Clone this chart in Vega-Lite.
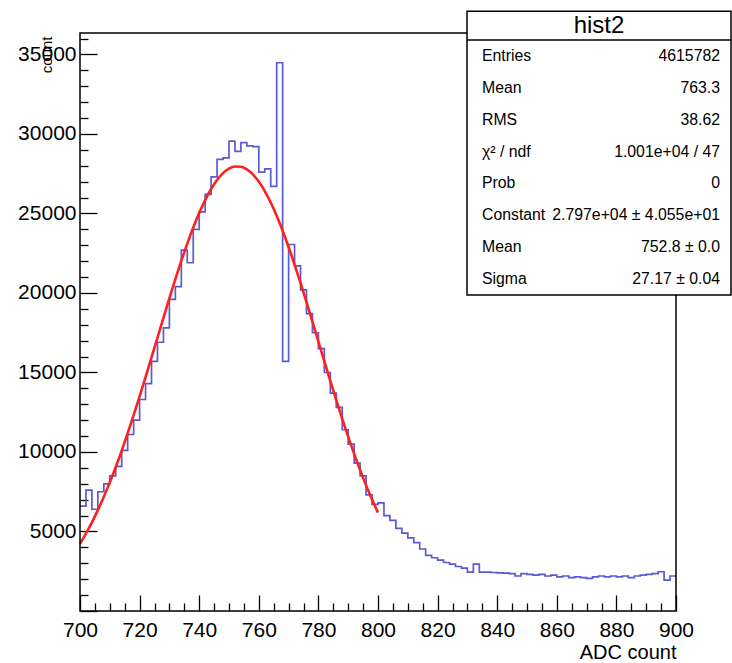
{
  "$schema": "https://vega.github.io/schema/vega-lite/v6.json",
  "autosize": {"type": "none"},
  "width": 596,
  "height": 578,
  "padding": {"left": 80, "top": 33, "right": 56, "bottom": 52},
  "background": "white",
  "config": {
    "view": {"stroke": null},
    "axis": {"labelFont": "Liberation Sans", "titleFont": "Liberation Sans", "labelColor": "black", "titleColor": "black", "tickColor": "black", "titleFontWeight": "normal", "domain": false, "grid": false, "tickWidth": 1.3}
  },
  "datasets": {
    "hist": [
      {"adc": 700, "count": 6600}, {"adc": 702, "count": 7600}, {"adc": 704, "count": 6400}, {"adc": 706, "count": 7500},
      {"adc": 708, "count": 8000}, {"adc": 710, "count": 8500}, {"adc": 712, "count": 9100}, {"adc": 714, "count": 10100},
      {"adc": 716, "count": 11100}, {"adc": 718, "count": 12000}, {"adc": 720, "count": 13300}, {"adc": 722, "count": 14300},
      {"adc": 724, "count": 15700}, {"adc": 726, "count": 16900}, {"adc": 728, "count": 17800}, {"adc": 730, "count": 19600},
      {"adc": 732, "count": 20400}, {"adc": 734, "count": 22700}, {"adc": 736, "count": 21900}, {"adc": 738, "count": 24000},
      {"adc": 740, "count": 25100}, {"adc": 742, "count": 26200}, {"adc": 744, "count": 27300}, {"adc": 746, "count": 28400},
      {"adc": 748, "count": 28500}, {"adc": 750, "count": 29550}, {"adc": 752, "count": 28900}, {"adc": 754, "count": 29450},
      {"adc": 756, "count": 29250}, {"adc": 758, "count": 29200}, {"adc": 760, "count": 27600}, {"adc": 762, "count": 27800},
      {"adc": 764, "count": 26700}, {"adc": 766, "count": 34480}, {"adc": 768, "count": 15700}, {"adc": 770, "count": 23050},
      {"adc": 772, "count": 21700}, {"adc": 774, "count": 20200}, {"adc": 776, "count": 18700}, {"adc": 778, "count": 17500},
      {"adc": 780, "count": 16500}, {"adc": 782, "count": 15000}, {"adc": 784, "count": 13700}, {"adc": 786, "count": 12800},
      {"adc": 788, "count": 11400}, {"adc": 790, "count": 10500}, {"adc": 792, "count": 9300}, {"adc": 794, "count": 8500},
      {"adc": 796, "count": 7300}, {"adc": 798, "count": 6700}, {"adc": 800, "count": 6800}, {"adc": 802, "count": 6000},
      {"adc": 804, "count": 5700}, {"adc": 806, "count": 5200}, {"adc": 808, "count": 4900}, {"adc": 810, "count": 4600},
      {"adc": 812, "count": 4300}, {"adc": 814, "count": 3900}, {"adc": 816, "count": 3500}, {"adc": 818, "count": 3350},
      {"adc": 820, "count": 3200}, {"adc": 822, "count": 3050}, {"adc": 824, "count": 2950}, {"adc": 826, "count": 2800},
      {"adc": 828, "count": 2700}, {"adc": 830, "count": 2450}, {"adc": 832, "count": 2950}, {"adc": 834, "count": 2450},
      {"adc": 836, "count": 2450}, {"adc": 838, "count": 2420}, {"adc": 840, "count": 2400}, {"adc": 842, "count": 2380},
      {"adc": 844, "count": 2350}, {"adc": 846, "count": 2200}, {"adc": 848, "count": 2350}, {"adc": 850, "count": 2300},
      {"adc": 852, "count": 2250}, {"adc": 854, "count": 2300}, {"adc": 856, "count": 2200}, {"adc": 858, "count": 2250},
      {"adc": 860, "count": 2150}, {"adc": 862, "count": 2200}, {"adc": 864, "count": 2100}, {"adc": 866, "count": 2150},
      {"adc": 868, "count": 2100}, {"adc": 870, "count": 2050}, {"adc": 872, "count": 2150}, {"adc": 874, "count": 2200},
      {"adc": 876, "count": 2150}, {"adc": 878, "count": 2200}, {"adc": 880, "count": 2150}, {"adc": 882, "count": 2200},
      {"adc": 884, "count": 2100}, {"adc": 886, "count": 2200}, {"adc": 888, "count": 2250}, {"adc": 890, "count": 2300},
      {"adc": 892, "count": 2350}, {"adc": 894, "count": 2470}, {"adc": 896, "count": 1940}, {"adc": 898, "count": 2200},
      {"adc": 900, "count": 2200}
    ],
    "fit": [
      {"adc": 700, "fit": 4232}, {"adc": 702, "fit": 4870}, {"adc": 704, "fit": 5574}, {"adc": 706, "fit": 6344},
      {"adc": 708, "fit": 7183}, {"adc": 710, "fit": 8089}, {"adc": 712, "fit": 9057}, {"adc": 714, "fit": 10089},
      {"adc": 716, "fit": 11177}, {"adc": 718, "fit": 12315}, {"adc": 720, "fit": 13498}, {"adc": 722, "fit": 14712},
      {"adc": 724, "fit": 15949}, {"adc": 726, "fit": 17196}, {"adc": 728, "fit": 18441}, {"adc": 730, "fit": 19669},
      {"adc": 732, "fit": 20866}, {"adc": 734, "fit": 22015}, {"adc": 736, "fit": 23103}, {"adc": 738, "fit": 24116},
      {"adc": 740, "fit": 25033}, {"adc": 742, "fit": 25844}, {"adc": 744, "fit": 26541}, {"adc": 746, "fit": 27109},
      {"adc": 748, "fit": 27536}, {"adc": 750, "fit": 27822}, {"adc": 752, "fit": 27959}, {"adc": 754, "fit": 27942},
      {"adc": 756, "fit": 27777}, {"adc": 758, "fit": 27463}, {"adc": 760, "fit": 27005}, {"adc": 762, "fit": 26412},
      {"adc": 764, "fit": 25690}, {"adc": 766, "fit": 24857}, {"adc": 768, "fit": 23917}, {"adc": 770, "fit": 22890},
      {"adc": 772, "fit": 21788}, {"adc": 774, "fit": 20631}, {"adc": 776, "fit": 19425}, {"adc": 778, "fit": 18194},
      {"adc": 780, "fit": 16947}, {"adc": 782, "fit": 15700}, {"adc": 784, "fit": 14466}, {"adc": 786, "fit": 13258},
      {"adc": 788, "fit": 12086}, {"adc": 790, "fit": 10956}, {"adc": 792, "fit": 9879}, {"adc": 794, "fit": 8858},
      {"adc": 796, "fit": 7902}, {"adc": 798, "fit": 7009}, {"adc": 800, "fit": 6187}
    ],
    "stats": [
      {"row": 1, "label": "Entries", "val": "4615782"},
      {"row": 2, "label": "Mean", "val": "763.3"},
      {"row": 3, "label": "RMS", "val": "38.62"},
      {"row": 4, "label": "χ² / ndf", "val": "1.001e+04 / 47"},
      {"row": 5, "label": "Prob", "val": "0"},
      {"row": 6, "label": "Constant", "val": "2.797e+04 ± 4.055e+01"},
      {"row": 7, "label": "Mean", "val": "752.8 ± 0.0"},
      {"row": 8, "label": "Sigma", "val": "27.17 ± 0.04"}
    ]
  },
  "layer": [
    {
      "layer": [
        {
          "data": {"name": "hist"},
          "mark": {"type": "line", "interpolate": "step-after", "color": "#5a5ad4", "strokeWidth": 1.7},
          "encoding": {
            "x": {"field": "adc", "type": "quantitative",
              "scale": {"domain": [700, 900], "nice": false, "zero": false},
              "axis": {"values": [700,705,710,715,720,725,730,735,740,745,750,755,760,765,770,775,780,785,790,795,800,805,810,815,820,825,830,835,840,845,850,855,860,865,870,875,880,885,890,895,900],
                "tickCount": 200,
                "format": "d", "labelExpr": "datum.value % 20 === 0 ? datum.label : ''",
                "tickSize": {"condition": {"test": "datum.value % 20 === 0", "value": -16}, "value": -8},
                "labelPadding": 24, "labelFontSize": 21, "labelFlush": false, "labelOverlap": false,
                "title": "ADC count", "titleFontSize": 20, "titleX": 596, "titleY": 41, "titleAlign": "right", "titleBaseline": "middle", "titleAngle": 0}},
            "y": {"field": "count", "type": "quantitative",
              "scale": {"domain": [0, 36350], "nice": false, "zero": false},
              "axis": {"values": [0,1000,2000,3000,4000,5000,6000,7000,8000,9000,10000,11000,12000,13000,14000,15000,16000,17000,18000,19000,20000,21000,22000,23000,24000,25000,26000,27000,28000,29000,30000,31000,32000,33000,34000,35000,36000],
                "tickCount": 200,
                "format": "d", "labelExpr": "datum.value % 5000 === 0 && datum.value > 0 ? datum.label : ''",
                "tickSize": {"condition": {"test": "datum.value % 5000 === 0", "value": -17}, "value": -8},
                "labelPadding": 21, "labelFontSize": 21, "labelFlush": false, "labelOverlap": false,
                "title": "count", "titleFontSize": 15, "titleX": -34, "titleY": 3, "titleAlign": "right", "titleBaseline": "middle", "titleAngle": 270}}
          }
        },
        {
          "data": {"name": "fit"},
          "mark": {"type": "line", "interpolate": "monotone", "color": "#ff1f1f", "strokeWidth": 2.6},
          "encoding": {
            "x": {"field": "adc", "type": "quantitative"},
            "y": {"field": "fit", "type": "quantitative"}
          }
        },
        {
          "data": {"values": [{}]},
          "mark": {"type": "rect", "fillOpacity": 0, "stroke": "black", "strokeWidth": 1.5},
          "encoding": {
            "x": {"datum": 700, "type": "quantitative"},
            "x2": {"datum": 900},
            "y": {"datum": 0, "type": "quantitative"},
            "y2": {"datum": 36350}
          }
        }
      ]
    },
    {
      "layer": [
        {
          "data": {"values": [{}]},
          "mark": {"type": "rect", "fill": "white", "stroke": "black", "strokeWidth": 1.5},
          "encoding": {
            "x": {"datum": 0, "type": "quantitative", "scale": {"domain": [0, 1], "range": [387, 651], "nice": false, "zero": false}, "axis": null},
            "x2": {"datum": 1},
            "y": {"datum": -0.4, "type": "quantitative", "scale": {"domain": [0.5, 8.5], "range": [7, 262], "nice": false, "zero": false}, "axis": null},
            "y2": {"datum": 8.5}
          }
        },
        {
          "data": {"values": [{}]},
          "mark": {"type": "rule", "stroke": "black", "strokeWidth": 1.5},
          "encoding": {
            "x": {"datum": 0, "type": "quantitative"},
            "x2": {"datum": 1},
            "y": {"datum": 0.5, "type": "quantitative"}
          }
        },
        {
          "data": {"values": [{}]},
          "mark": {"type": "text", "text": "hist2", "font": "Liberation Sans", "fontSize": 24, "align": "center", "baseline": "middle", "color": "black"},
          "encoding": {
            "x": {"datum": 0.5, "type": "quantitative"},
            "y": {"datum": 0.05, "type": "quantitative"}
          }
        },
        {
          "data": {"name": "stats"},
          "mark": {"type": "text", "font": "Liberation Sans", "fontSize": 15.8, "align": "left", "baseline": "middle", "dx": 15, "color": "black"},
          "encoding": {
            "x": {"datum": 0, "type": "quantitative"},
            "y": {"field": "row", "type": "quantitative"},
            "text": {"field": "label"}
          }
        },
        {
          "data": {"name": "stats"},
          "mark": {"type": "text", "font": "Liberation Sans", "fontSize": 15.8, "align": "right", "baseline": "middle", "dx": -11, "color": "black"},
          "encoding": {
            "x": {"datum": 1, "type": "quantitative"},
            "y": {"field": "row", "type": "quantitative"},
            "text": {"field": "val"}
          }
        }
      ]
    }
  ],
  "resolve": {"scale": {"x": "independent", "y": "independent"}}
}
